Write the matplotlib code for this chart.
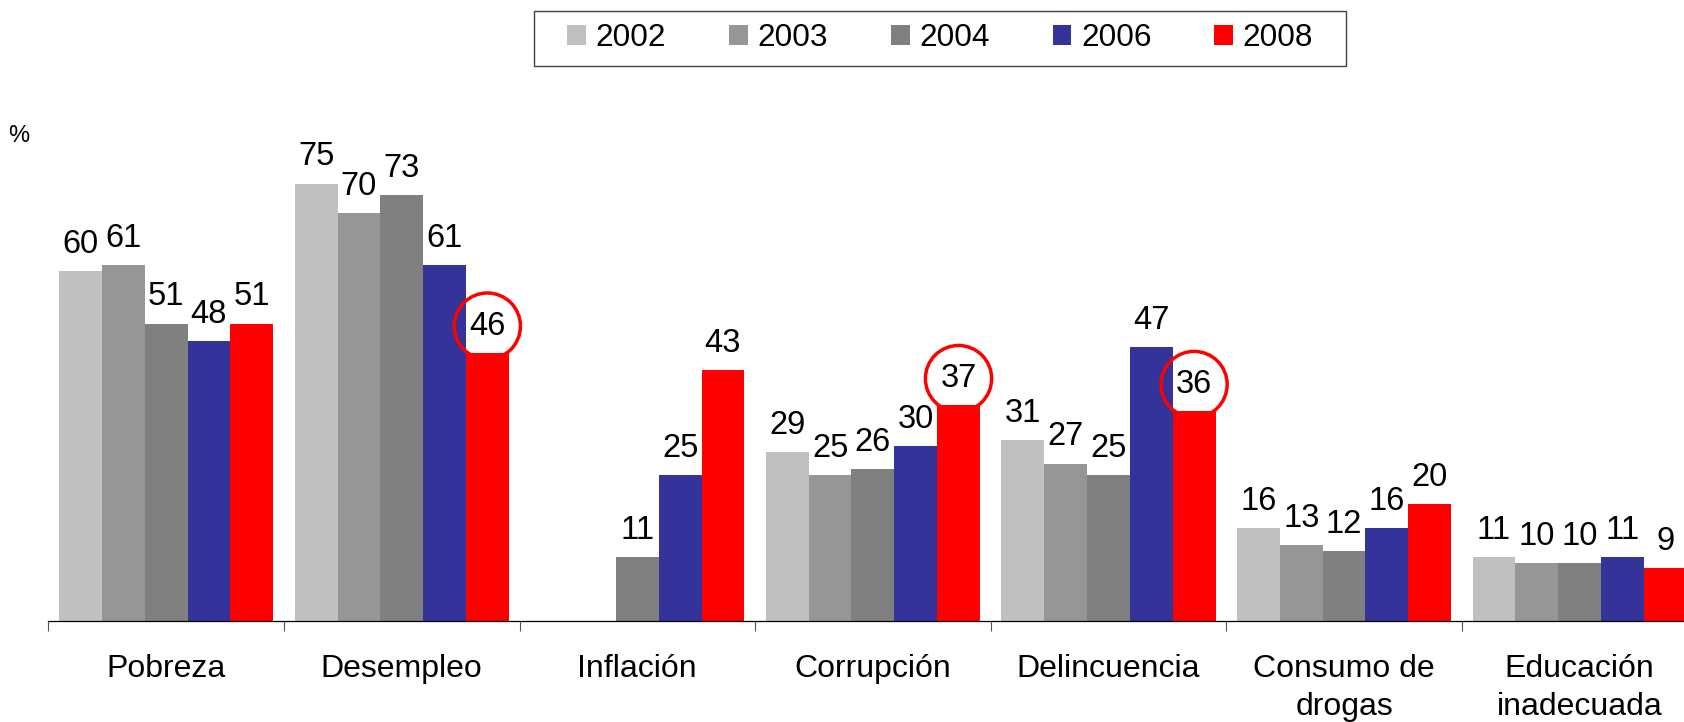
import numpy as np
import matplotlib
matplotlib.use("Agg")
import matplotlib.pyplot as plt
from matplotlib.patches import Rectangle

plt.rcParams['font.family'] = ['Liberation Sans', 'DejaVu Sans']

# data
categories = ['Pobreza', 'Desempleo', 'Inflación', 'Corrupción', 'Delincuencia',
              'Consumo de\ndrogas', 'Educación\ninadecuada']
years = ['2002', '2003', '2004', '2006', '2008']
v2002 = [60, 75, np.nan, 29, 31, 16, 11]
v2003 = [61, 70, np.nan, 25, 27, 13, 10]
v2004 = [51, 73, 11, 26, 25, 12, 10]
v2006 = [48, 61, 25, 30, 47, 16, 11]
v2008 = [51, 46, 43, 37, 36, 20, 9]
circled = ['Desempleo', 'Corrupción', 'Delincuencia']  # 2008 labels ringed in red

series = [v2002, v2003, v2004, v2006, v2008]
colors = ['#C0C0C0', '#969696', '#808080', '#333399', '#FF0000']

fig = plt.figure(figsize=(16.84, 7.22), dpi=100)
ax = fig.add_axes([0.0287, 0.1399, 0.9793, 0.7271])

x = np.arange(len(categories))
w = 0.1817
for i, (vals, c, yr) in enumerate(zip(series, colors, years)):
    xs = x + (i - 2) * w
    ax.bar(xs, vals, width=w, color=c, label=yr, linewidth=0)
    for cat, xi, v in zip(categories, xs, vals):
        if np.isnan(v):
            continue
        kw = {}
        if yr == '2008' and cat in circled:
            kw['bbox'] = dict(boxstyle='circle,pad=0.46', fc='none', ec='#FF0000', lw=2.5)
        ax.annotate(f'{v:g}', (xi, v), xytext=(0, 13), textcoords='offset points',
                    ha='center', va='baseline', fontsize=23.5, **kw)

ax.set_xlim(-0.5, len(categories) - 0.5)
ax.set_ylim(0, 90)
for s in ['top', 'right', 'left']:
    ax.spines[s].set_visible(False)
ax.spines['bottom'].set_linewidth(0.9)
ax.set_yticks([])
ax.set_xticks(x)
ax.set_xticklabels(categories, fontsize=23, linespacing=1.35, va='top')
ax.tick_params(axis='x', which='major', length=0, pad=24)
ax.set_xticks(np.arange(len(categories) + 1) - 0.5, minor=True)
ax.tick_params(axis='x', which='minor', length=7.5, width=0.8, color='#555555')

fig.text(0.0048, 0.8116, '%', fontsize=17, va='center', ha='left')

leg = ax.legend(loc='center', bbox_to_anchor=(0.5582, 0.9467), bbox_transform=fig.transFigure,
                ncol=5, frameon=False, fontsize=22.7, handlelength=0.6, handleheight=0.6,
                handletextpad=0.3, columnspacing=2.0, borderpad=0.4)
fig.canvas.draw()
bb = leg.get_window_extent()
bb = fig.transFigure.inverted().transform([[bb.x0 - 20, bb.y0], [bb.x1 + 20, bb.y1]])
fig.patches.append(Rectangle(bb[0], bb[1][0] - bb[0][0], bb[1][1] - bb[0][1],
                             transform=fig.transFigure, fill=False, ec='#404040', lw=1.0))

fig.savefig('out.png', dpi=100)
